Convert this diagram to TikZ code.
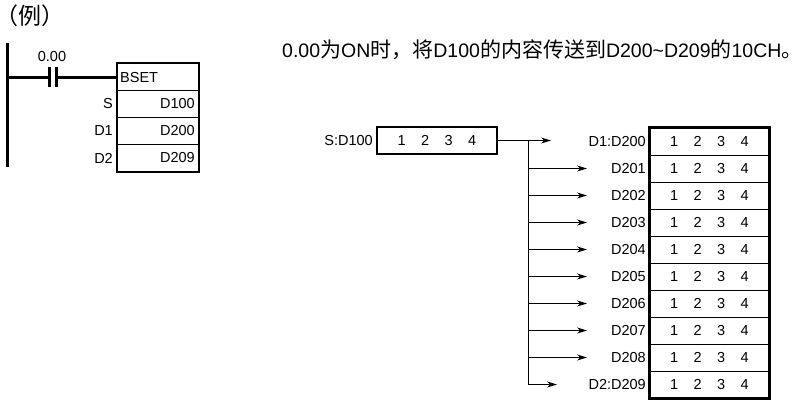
\documentclass[tikz,border=0pt]{standalone}
\usepackage{fontspec}
\setmainfont{Liberation Sans}
\newfontfamily\cjk{Noto Sans CJK SC}
\usetikzlibrary{arrows.meta}
\newcommand{\C}[1]{{\fontsize{21}{22}\selectfont\cjk #1}}
\newcommand{\digs}{\makebox[23.5pt]{1}\makebox[23.5pt]{2}\makebox[23.5pt]{3}\makebox[23.5pt]{4}}
\begin{document}
\begin{tikzpicture}[x=1pt,y=-1pt,
  thickln/.style={line width=2.6pt},
  thinln/.style={line width=0.9pt},
  lbl/.style={font=\fontsize{14.5}{16}\selectfont, inner sep=0pt},
  ttl/.style={inner sep=0pt, font=\fontsize{23}{24}\selectfont\cjk\addfontfeatures{}},
  row/.style={draw, line width=0.9pt, minimum width=119pt, minimum height=27pt, inner sep=0pt, font=\fontsize{14.5}{16}\selectfont},
  arr/.style={line width=0.9pt, -{Stealth[length=10pt,width=6pt]}}
]
\useasboundingbox (0,0) rectangle (801,405);
% title
\node[ttl] (ex2) at (30,15.5) {例};
\node[ttl, anchor=east] (ex1) at (ex2.west) {（};
\node[ttl, anchor=west] (ex3) at (ex2.east) {）};
\node[anchor=west, inner sep=0pt, font=\fontsize{19.5}{22}\selectfont] (desc) at (282,50)
  {0.00\C{为}ON\C{时，将}D100\C{的内容传送到}D200\textasciitilde D209\C{的}10CH\C{。}};
% ladder
\coordinate (railT) at (7,43);
\coordinate (railB) at (7,167);
\draw[line width=3pt] (railT) -- (railB);
\coordinate (rung) at (7,77);
\coordinate (cA1) at (49,67); \coordinate (cA2) at (49,87);
\coordinate (cB1) at (56,67); \coordinate (cB2) at (56,87);
\coordinate (cA) at (49,77); \coordinate (cB) at (56,77);
\node[lbl] (addr) at (52,57) {0.00};
\node[draw, line width=2.6pt, minimum width=82pt, minimum height=109pt, inner sep=0pt] (inst) at (158,117.5) {};
\draw[line width=3pt] (rung) -- (cA);
\draw[line width=3pt] (cA1) -- (cA2);
\draw[line width=3pt] (cB1) -- (cB2);
\draw[line width=3pt] (cB) -- (inst.west |- cB);
\draw[thinln] (117,90) -- (199,90);
\draw[thinln] (117,117) -- (199,117);
\draw[thinln] (117,144) -- (199,144);
\node[lbl, anchor=west] (bset) at (120,77.5) {BSET};
\node[lbl, anchor=east] (op1) at (195,104) {D100};
\node[lbl, anchor=east] (op2) at (195,131) {D200};
\node[lbl, anchor=east] (op3) at (195,158) {D209};
\node[lbl, anchor=east] (s) at (113,104) {S};
\node[lbl, anchor=east] (d1) at (113,131) {D1};
\node[lbl, anchor=east] (d2) at (113,158) {D2};
% source
\node[draw, line width=2.6pt, minimum width=120pt, minimum height=27pt, inner sep=0pt, font=\fontsize{14.5}{16}\selectfont] (src) at (437,140.5) {\digs};
\node[lbl, anchor=east] (srcl) at (373,140.5) {S:D100};
% destination rows
\foreach \i/\t in {0/D1:D200,1/D201,2/D202,3/D203,4/D204,5/D205,6/D206,7/D207,8/D208,9/D2:D209}{
  \node[row] (r\i) at (709.5,{141.5+27*\i}) {\digs};
  \node[lbl, anchor=east] (l\i) at (646,{141.5+27*\i}) {\t};
}
\draw[line width=2.6pt] (r0.north west) rectangle (r9.south east);
% connectors
\coordinate (j0) at (528,140.5);
\coordinate (j9) at (528,384.5);
\draw[thinln] (src.east) -- (j0);
\draw[thinln] (j0) -- (j9);
\coordinate (t0) at (551,140.5);
\draw[arr] (j0) -- (t0);
\foreach \i in {1,...,8}{
  \coordinate (j\i) at (528,{141.5+27*\i});
  \coordinate (t\i) at (587,{141.5+27*\i});
  \draw[arr] (j\i) -- (t\i);
}
\coordinate (t9) at (557,384.5);
\draw[arr] (j9) -- (t9);
\end{tikzpicture}
\end{document}
